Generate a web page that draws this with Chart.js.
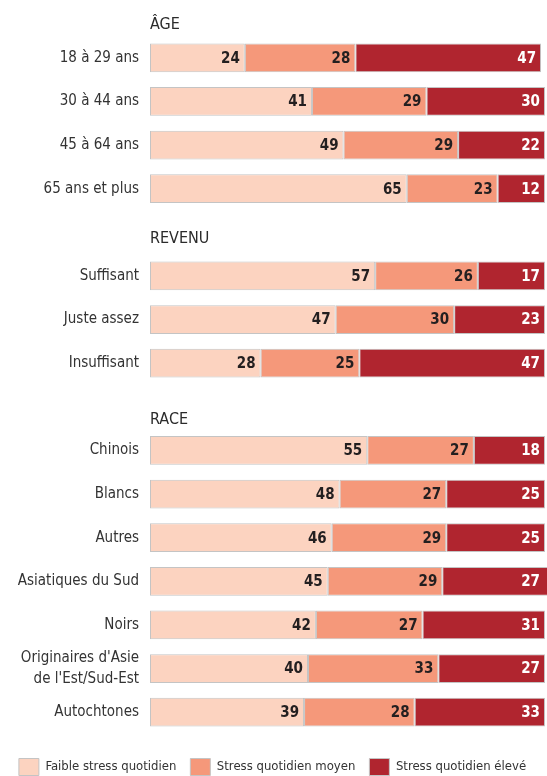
<!DOCTYPE html>
<html>
<head>
<meta charset="utf-8">
<script src="https://cdn.jsdelivr.net/npm/chart.js@4.4.0/dist/chart.umd.min.js"></script>
<style>
  body { margin: 0; background: #fff; }
  #wrap { width: 547px; height: 776px; position: relative; }
</style>
</head>
<body>
<div id="wrap"><canvas id="stress"></canvas></div>
<script>
// rows: '' = blank slot used for group header
var categories = [
    '18 à 29 ans', '30 à 44 ans', '45 à 64 ans', '65 ans et plus',
    '',
    'Suffisant', 'Juste assez', 'Insuffisant',
    '',
    'Chinois', 'Blancs', 'Autres', 'Asiatiques du Sud', 'Noirs',
    ["Originaires d'Asie", "de l'Est/Sud-Est"], 'Autochtones'
];
var faible = [24, 41, 49, 65, null, 57, 47, 28, null, 55, 48, 46, 45, 42, 40, 39];
var moyen  = [28, 29, 29, 23, null, 26, 30, 25, null, 27, 27, 29, 29, 27, 33, 28];
var eleve  = [47, 30, 22, 12, null, 17, 23, 47, null, 18, 25, 25, 27, 31, 27, 33];
var seriesNames = ['Faible stress quotidien', 'Stress quotidien moyen', 'Stress quotidien élevé'];
// group headers: text + index of first row of the group
var groupNames = ['ÂGE', 'REVENU', 'RACE'];
var groupStart = [0, 5, 9];

var FONT = "'DejaVu Sans Condensed', 'Liberation Sans Narrow', sans-serif";
var colors = ['#fcd3c0', '#f5987a', '#b0252f'];

// draws the number at the right end of each segment
var valueLabels = {
    id: 'valueLabels',
    afterDatasetsDraw: function (chart) {
        var ctx = chart.ctx;
        ctx.save();
        ctx.font = 'bold 15px ' + FONT;
        ctx.textAlign = 'right';
        ctx.textBaseline = 'middle';
        chart.data.datasets.forEach(function (ds, d) {
            var meta = chart.getDatasetMeta(d);
            meta.data.forEach(function (bar, i) {
                if (ds.data[i] == null) return;
                ctx.fillStyle = d == 2 ? '#ffffff' : '#231f20';
                ctx.fillText(ds.data[i], Math.min(bar.x, chart.chartArea.right) - 5, bar.y + 1);
            });
        });
        ctx.restore();
    }
};

// section titles above each group
var groupHeaders = {
    id: 'groupHeaders',
    afterDraw: function (chart) {
        var ctx = chart.ctx;
        var y = chart.scales.y;
        var offs = [33, 37, 31];
        ctx.save();
        ctx.font = '16px ' + FONT;
        ctx.fillStyle = '#2b2b2b';
        ctx.textAlign = 'left';
        ctx.textBaseline = 'middle';
        groupNames.forEach(function (name, g) {
            ctx.fillText(name, chart.chartArea.left, y.getPixelForValue(groupStart[g]) - offs[g]);
        });
        ctx.restore();
    }
};

new Chart('stress', {
    type: 'bar',
    data: {
        labels: categories,
        datasets: [faible, moyen, eleve].map(function (vals, k) {
            return {
                label: seriesNames[k],
                data: vals,
                backgroundColor: colors[k],
                borderColor: '#c4c4c4',
                borderWidth: 1,
                borderSkipped: false,
                categoryPercentage: 1,
                barPercentage: 0.66,
                clip: false
            };
        })
    },
    options: {
        indexAxis: 'y',
        responsive: true,
        maintainAspectRatio: false,
        animation: false,
        layout: { padding: { top: 36, right: 2, left: 0, bottom: -9.5 } },
        scales: {
            x: { stacked: true, min: 0, max: 100, display: false },
            y: {
                stacked: true,
                grid: { display: false, drawTicks: false },
                border: { display: false },
                ticks: {
                    color: '#333333',
                    padding: 11,
                    autoSkip: false,
                    font: { family: FONT, size: 15, lineHeight: 1.4 }
                },
                afterFit: function (scale) { scale.width = 150; }
            }
        },
        plugins: {
            tooltip: { enabled: false },
            legend: {
                position: 'bottom',
                // empty title only pushes the row down a bit
                title: { display: true, text: ' ', padding: 0, font: { size: 10, lineHeight: 1.05 } },
                labels: {
                    color: '#333333',
                    boxWidth: 20,
                    boxHeight: 17,
                    padding: 14,
                    font: { family: FONT, size: 13 }
                }
            }
        }
    },
    plugins: [valueLabels, groupHeaders]
});
</script>
</body>
</html>
